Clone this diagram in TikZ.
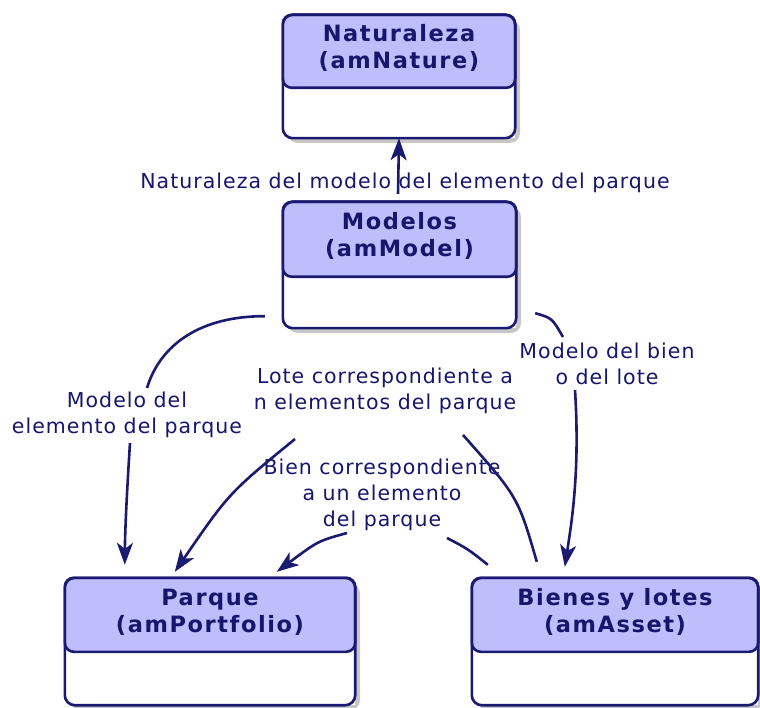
\documentclass[tikz,border=0pt]{standalone}
\usepackage{fontspec}
\usetikzlibrary{arrows.meta,calc}
\newfontfamily\titlefont[LetterSpace=7]{DejaVu Sans}
\newfontfamily\lblfont[LetterSpace=5]{DejaVu Sans}
\definecolor{navy}{RGB}{26,26,112}
\definecolor{headfill}{RGB}{190,190,252}
\definecolor{txt}{RGB}{22,22,108}
\tikzset{
  boxshadow/.style={fill=black!22, rounded corners=10pt},
  boxbody/.style={rectangle, fill=white, inner sep=0pt},
  boxline/.style={draw=navy, line width=2.6pt},
  titletext/.style={align=center, text=txt, font=\titlefont\bfseries\fontsize{22.5}{27}\selectfont},
  lbl/.style={align=center, text=txt, inner sep=1pt, font=\lblfont\fontsize{20.5}{26}\selectfont},
  conn/.style={draw=navy, line width=2.6pt},
  arr/.style={conn, -{Stealth[length=22pt,width=16pt,inset=6pt]}}
}
\newcommand{\classbox}[7]{%
  \fill[boxshadow] (#2-#4/2+5,#3-#5/2+5) rectangle (#2+#4/2+5,#3+#5/2+5);
  \node[boxbody, minimum width=#4pt, minimum height=#5pt] (#1) at (#2,#3) {};
  \fill[white, rounded corners=10pt] (#1.north west) rectangle (#1.south east);
  \fill[headfill, rounded corners=9pt] (#1.north west) rectangle ($(#1.north east)+(0,#6)$);
  \draw[boxline, rounded corners=9pt] (#1.north west) rectangle ($(#1.north east)+(0,#6)$);
  \draw[boxline, rounded corners=10pt] (#1.north west) rectangle (#1.south east);
  \node[titletext] at ($(#1.north)+(0,#6/2-3)$) {#7};
}
\begin{document}
\begin{tikzpicture}[x=1pt,y=-1pt]
\useasboundingbox (0,0) rectangle (760,708);
\fill[white] (0,0) rectangle (760,708);

\classbox{nat}{399}{76.5}{232}{123}{73}{Naturaleza\\(amNature)}
\classbox{mod}{399.5}{265}{233}{126}{75}{Modelos\\(amModel)}
\classbox{par}{210}{641.5}{290}{127}{74}{Parque\\(amPortfolio)}
\classbox{bie}{615}{641.5}{286}{127}{74}{Bienes y lotes\\(amAsset)}

% labels
\node[lbl] (l1) at (405,183) {Naturaleza del modelo del elemento del parque};
\node[lbl] (l2) at (127,414.5) {Modelo del\\elemento del parque};
\node[lbl] (l3) at (385,390.5) {Lote correspondiente a\\n elementos del parque};
\node[lbl] (l4) at (382,495) {Bien correspondiente\\a un elemento\\del parque};
\node[lbl] (l5) at (607,364) {Modelo del bien\\o del lote};

% connector ends
\coordinate (c1) at ($(mod.north)+(-1.5,-8)$);
\coordinate (a2s) at ($(mod.south west)+(-18,-12)$);
\coordinate (a2m) at (147,388);
\coordinate (a2n) at (130,443);
\coordinate (a2t) at ($(par.north west)+(60,-13)$);
\coordinate (b1s) at ($(bie.north west)+(65,-16)$);
\coordinate (b1m) at (463,435);
\coordinate (b1n) at (295,439);
\coordinate (b1t) at ($(par.north west)+(110,-6)$);
\coordinate (c2s) at ($(bie.north west)+(16,-13)$);
\coordinate (c2m) at (447,538);
\coordinate (c2n) at (347,533);
\coordinate (c2t) at ($(par.north west)+(212,-6)$);
\coordinate (d2s) at ($(mod.south east)+(19,-15)$);
\coordinate (d2m) at (563,337);
\coordinate (d2n) at (575,390);
\coordinate (d2t) at ($(bie.north west)+(93,-11)$);

% connectors
\draw[arr] (c1) -- (nat.south);
\draw[conn] (a2s) .. controls (200,316) and (160,345) .. (a2m);
\draw[arr] (a2n) .. controls (127,490) and (125,530) .. (a2t);
\draw[conn] (b1s) .. controls (518,497) .. (b1m);
\draw[arr] (b1n) .. controls (229,493) .. (b1t);
\draw[conn] (c2s) .. controls (468,549) .. (c2m);
\draw[arr] (c2n) .. controls (318,541) .. (c2t);
\draw[conn] (d2s) .. controls (552,318) .. (d2m);
\draw[arr] (d2n) .. controls (580,470) and (572,520) .. (d2t);
\end{tikzpicture}
\end{document}
